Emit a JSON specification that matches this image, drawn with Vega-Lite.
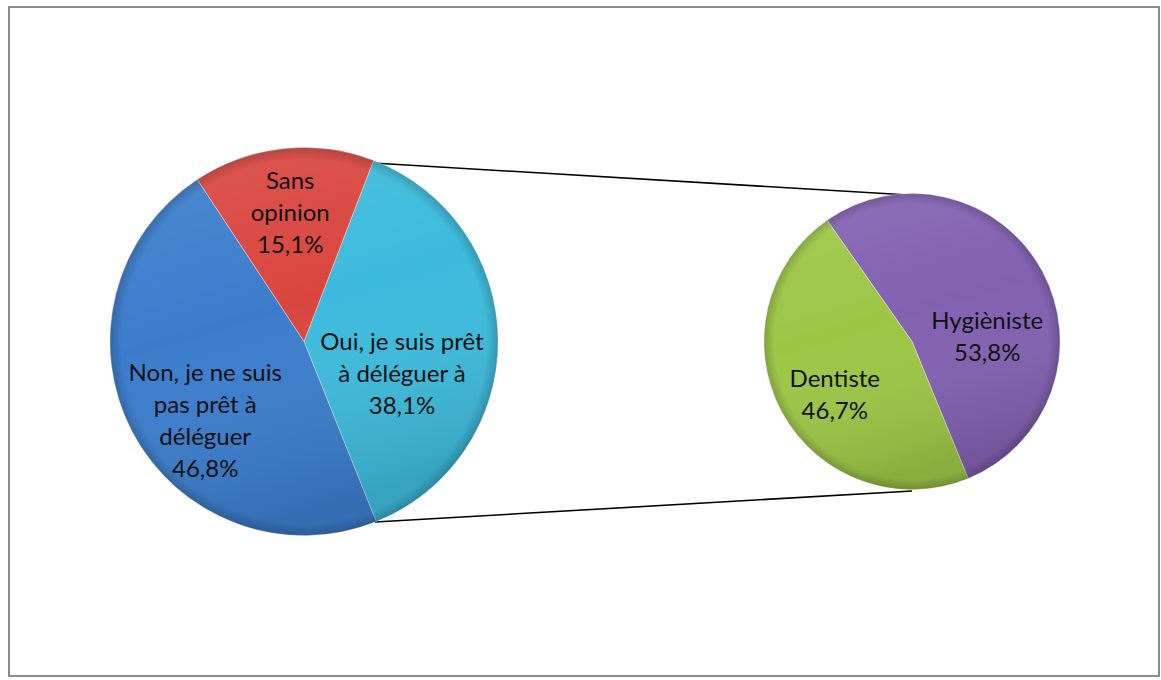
{
  "$schema": "https://vega.github.io/schema/vega-lite/v6.json",
  "width": 1161,
  "height": 680,
  "autosize": {"type": "fit", "contains": "padding"},
  "padding": {"left": 9, "top": 7, "right": 2, "bottom": 4},
  "background": "white",
  "config": {
    "view": {"stroke": "#8c8c8c", "strokeWidth": 2},
    "text": {"font": "Lato", "fontSize": 24, "color": "#111111", "lineHeight": 32}
  },
  "datasets": {
    "principal": [
      {"pie": "Principal", "catégorie": "Oui, je suis prêt à déléguer à", "libellé": "Oui, je suis prêt\nà déléguer à\n38,1%", "pct": 38.1, "ordre": 1},
      {"pie": "Principal", "catégorie": "Non, je ne suis pas prêt à déléguer", "libellé": "Non, je ne suis\npas prêt à\ndéléguer\n46,8%", "pct": 46.8, "ordre": 2},
      {"pie": "Principal", "catégorie": "Sans opinion", "libellé": "Sans\nopinion\n15,1%", "pct": 15.1, "ordre": 3}
    ],
    "detail": [
      {"pie": "Détail", "catégorie": "Hygièniste", "libellé": "Hygièniste\n53,8%", "pct": 53.8, "ordre": 1},
      {"pie": "Détail", "catégorie": "Dentiste", "libellé": "Dentiste\n46,7%", "pct": 46.7, "ordre": 2}
    ]
  },
  "layer": [
    {
      "data": {"values": [{"lien": "connecteur"}]},
      "layer": [
        {
          "mark": {"type": "rule", "color": "#000000", "strokeWidth": 1.6},
          "encoding": {
            "x": {"datum": 364, "type": "quantitative", "scale": {"domain": [0, 1150], "nice": false, "zero": false}, "axis": null},
            "y": {"datum": 156, "type": "quantitative", "scale": {"domain": [0, 669], "reverse": true, "nice": false, "zero": false}, "axis": null},
            "x2": {"datum": 900},
            "y2": {"datum": 188}
          }
        },
        {
          "mark": {"type": "rule", "color": "#000000", "strokeWidth": 1.6},
          "encoding": {
            "x": {"datum": 366, "type": "quantitative", "scale": {"domain": [0, 1150], "nice": false, "zero": false}, "axis": null},
            "y": {"datum": 515, "type": "quantitative", "scale": {"domain": [0, 669], "reverse": true, "nice": false, "zero": false}, "axis": null},
            "x2": {"datum": 903},
            "y2": {"datum": 484}
          }
        }
      ]
    },
    {
      "encoding": {
        "x": {"field": "pie", "type": "nominal", "scale": {"type": "point", "padding": 0, "domain": ["Principal", "Détail"], "range": [295, 903]}, "axis": null}
      },
      "layer": [
        {
          "data": {"name": "principal"},
          "mark": {"type": "arc", "radius": 194, "stroke": "#ffffff", "strokeOpacity": 0.35, "strokeWidth": 1},
          "encoding": {
            "theta": {"field": "pct", "type": "quantitative", "stack": true, "scale": {"range": [0.3665, 6.6497]}},
            "order": {"field": "ordre", "type": "quantitative"},
            "color": {
              "field": "catégorie", "type": "nominal",
              "scale": {
                "domain": ["Oui, je suis prêt à déléguer à", "Non, je ne suis pas prêt à déléguer", "Sans opinion", "Hygièniste", "Dentiste"],
                "range": ["#3dbbdc", "#3b7dcc", "#d9463f", "#8261b1", "#9dc646"]
              },
              "legend": null
            }
          }
        },
        {
          "data": {"values": [{"pie": "Principal"}]},
          "mark": {
            "type": "arc", "radius": 194, "theta": 0, "theta2": 6.2832,
            "fill": {"gradient": "linear", "x1": 0, "y1": 0, "x2": 0.3, "y2": 1, "stops": [{"offset": 0, "color": "rgba(255,255,255,0.10)"}, {"offset": 0.5, "color": "rgba(255,255,255,0)"}, {"offset": 1, "color": "rgba(0,0,0,0.12)"}]}
          },
          "encoding": {}
        },
        {
          "data": {"values": [{"pie": "Principal"}]},
          "mark": {
            "type": "arc", "radius": 194, "theta": 0, "theta2": 6.2832,
            "fill": {"gradient": "radial", "x1": 0.5, "y1": 0.5, "x2": 0.5, "y2": 0.5, "r1": 0, "r2": 0.5, "stops": [{"offset": 0, "color": "rgba(0,0,0,0)"}, {"offset": 0.94, "color": "rgba(0,0,0,0)"}, {"offset": 1, "color": "rgba(0,0,0,0.18)"}]}
          },
          "encoding": {}
        }
      ]
    },
    {
      "data": {"name": "principal"},
      "encoding": {
        "x": {"field": "pie", "type": "nominal", "scale": {"type": "point", "padding": 0, "domain": ["Principal", "Détail"], "range": [295, 903]}, "axis": null},
        "theta": {"field": "pct", "type": "quantitative", "stack": true, "scale": {"range": [0.3665, 6.6497]}},
        "order": {"field": "ordre", "type": "quantitative"}
      },
      "layer": [
        {
          "mark": {"type": "text", "radius": 100, "lineBreak": "\n", "dx": -2, "dy": 2},
          "encoding": {"text": {"condition": {"test": "datum.ordre === 1", "field": "libellé"}, "value": ""}}
        },
        {
          "mark": {"type": "text", "radius": 125, "lineBreak": "\n", "dx": 12, "dy": -25},
          "encoding": {"text": {"condition": {"test": "datum.ordre === 2", "field": "libellé"}, "value": ""}}
        },
        {
          "mark": {"type": "text", "radius": 128, "lineBreak": "\n", "dx": 0, "dy": -32},
          "encoding": {"text": {"condition": {"test": "datum.ordre === 3", "field": "libellé"}, "value": ""}}
        }
      ]
    },
    {
      "encoding": {
        "x": {"field": "pie", "type": "nominal", "scale": {"type": "point", "padding": 0, "domain": ["Principal", "Détail"], "range": [295, 903]}, "axis": null}
      },
      "layer": [
        {
          "data": {"name": "detail"},
          "mark": {"type": "arc", "radius": 148, "stroke": "#ffffff", "strokeOpacity": 0.35, "strokeWidth": 1},
          "encoding": {
            "theta": {"field": "pct", "type": "quantitative", "stack": true, "scale": {"range": [-0.611, 5.672]}},
            "order": {"field": "ordre", "type": "quantitative"},
            "color": {
              "field": "catégorie", "type": "nominal",
              "scale": {
                "domain": ["Oui, je suis prêt à déléguer à", "Non, je ne suis pas prêt à déléguer", "Sans opinion", "Hygièniste", "Dentiste"],
                "range": ["#3dbbdc", "#3b7dcc", "#d9463f", "#8261b1", "#9dc646"]
              },
              "legend": null
            }
          }
        },
        {
          "data": {"values": [{"pie": "Détail"}]},
          "mark": {
            "type": "arc", "radius": 148, "theta": 0, "theta2": 6.2832,
            "fill": {"gradient": "linear", "x1": 0, "y1": 0, "x2": 0.3, "y2": 1, "stops": [{"offset": 0, "color": "rgba(255,255,255,0.10)"}, {"offset": 0.5, "color": "rgba(255,255,255,0)"}, {"offset": 1, "color": "rgba(0,0,0,0.12)"}]}
          },
          "encoding": {}
        },
        {
          "data": {"values": [{"pie": "Détail"}]},
          "mark": {
            "type": "arc", "radius": 148, "theta": 0, "theta2": 6.2832,
            "fill": {"gradient": "radial", "x1": 0.5, "y1": 0.5, "x2": 0.5, "y2": 0.5, "r1": 0, "r2": 0.5, "stops": [{"offset": 0, "color": "rgba(0,0,0,0)"}, {"offset": 0.93, "color": "rgba(0,0,0,0)"}, {"offset": 1, "color": "rgba(0,0,0,0.18)"}]}
          },
          "encoding": {}
        }
      ]
    },
    {
      "data": {"name": "detail"},
      "encoding": {
        "x": {"field": "pie", "type": "nominal", "scale": {"type": "point", "padding": 0, "domain": ["Principal", "Détail"], "range": [295, 903]}, "axis": null},
        "theta": {"field": "pct", "type": "quantitative", "stack": true, "scale": {"range": [-0.611, 5.672]}},
        "order": {"field": "ordre", "type": "quantitative"}
      },
      "layer": [
        {
          "mark": {"type": "text", "radius": 80, "lineBreak": "\n", "dx": 5, "dy": 19},
          "encoding": {"text": {"condition": {"test": "datum.ordre === 1", "field": "libellé"}, "value": ""}}
        },
        {
          "mark": {"type": "text", "radius": 80, "lineBreak": "\n", "dx": -7, "dy": 0},
          "encoding": {"text": {"condition": {"test": "datum.ordre === 2", "field": "libellé"}, "value": ""}}
        }
      ]
    }
  ],
  "resolve": {"scale": {"x": "independent", "y": "independent", "theta": "independent"}}
}
